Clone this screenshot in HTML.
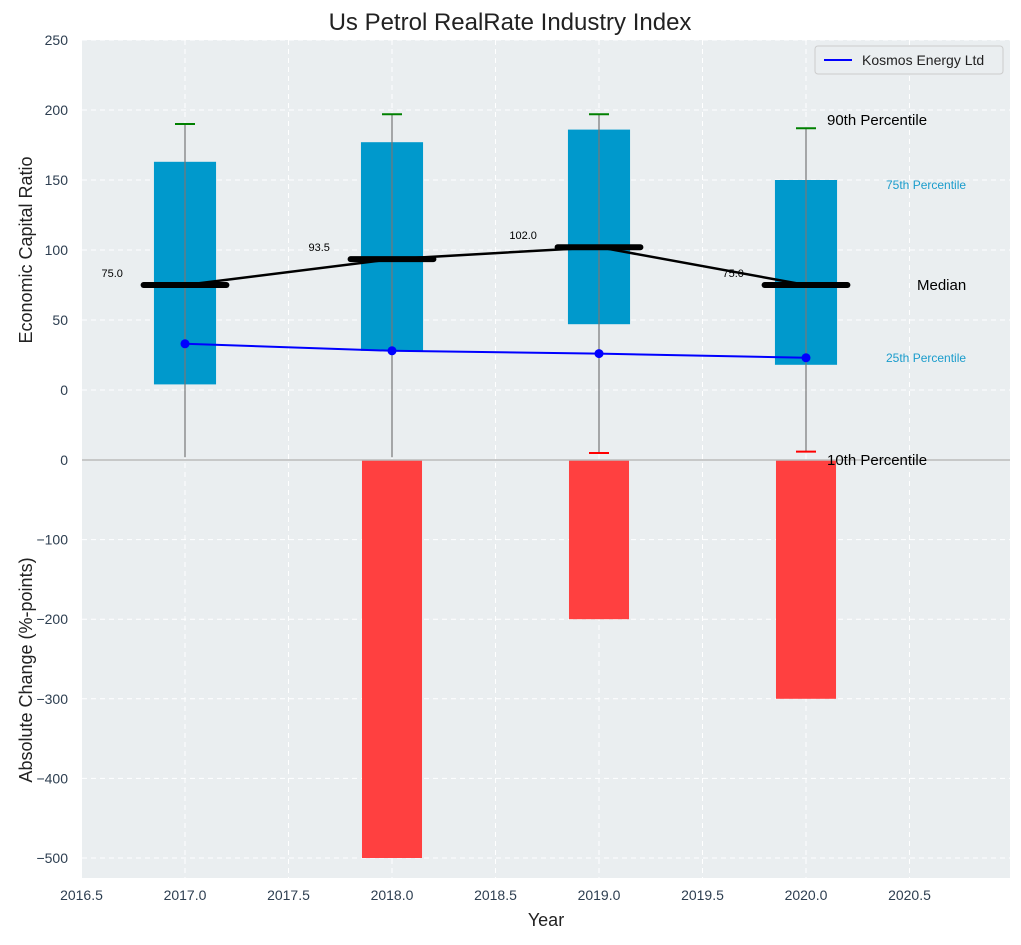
<!DOCTYPE html>
<html><head><meta charset="utf-8"><style>
body{margin:0;background:#fff;font-family:"Liberation Sans",sans-serif;}
svg text{font-family:"Liberation Sans",sans-serif;}
</style></head><body>
<svg id="chart" width="1021" height="940">
<rect x="82" y="40" width="928" height="420" fill="#eaeef0"/>
<rect x="82" y="460" width="928" height="418" fill="#eaeef0"/>
<g id="grid"></g>
<g id="marks"></g>
<line x1="82" y1="460" x2="1010" y2="460" stroke="#bbb" stroke-width="1.5"/>
<g id="axes"></g>
<text x="510" y="30" text-anchor="middle" font-size="24" fill="#222">Us Petrol RealRate Industry Index</text>
<text x="546" y="926" text-anchor="middle" font-size="18" fill="#222">Year</text>
<text transform="translate(32,250) rotate(-90)" text-anchor="middle" font-size="18" fill="#222">Economic Capital Ratio</text>
<text transform="translate(32,670) rotate(-90)" text-anchor="middle" font-size="18" fill="#222">Absolute Change (%-points)</text>
<g>
<rect x="815" y="46" width="188" height="28" rx="3" fill="#eaeef0" stroke="#ccc"/>
<line x1="824" y1="60" x2="852" y2="60" stroke="blue" stroke-width="2"/>
<text x="862" y="65" font-size="14" fill="#222">Kosmos Energy Ltd</text>
</g>
<text x="827" y="125" font-size="15" fill="#000">90th Percentile</text>
<text x="886" y="189" font-size="12" fill="#1a9ccc">75th Percentile</text>
<text x="917" y="290" font-size="15" fill="#000">Median</text>
<text x="886" y="362" font-size="12" fill="#1a9ccc">25th Percentile</text>
<text x="827" y="465" font-size="15" fill="#000">10th Percentile</text>
</svg>
<script>
const years=[2017,2018,2019,2020];
const p90=[190,197,197,187];
const p75=[163,177,186,150];
const medians=[75,93.5,102,75];
const p25=[4,28,47,18];
const p10=[-48,-48,-45,-44];
const kosmos=[33,28,26,23];
const changes=[0,-500,-200,-300];
const xTicks=[2016.5,2017,2017.5,2018,2018.5,2019,2019.5,2020,2020.5];
const topTicks=[250,200,150,100,50,0];
const botTicks=[0,-100,-200,-300,-400,-500];
const NS='http://www.w3.org/2000/svg';
const X=v=>185+(v-2017)*207;
const YT=v=>390-v*1.4;
const YB=v=>460-v*0.796;
function el(p,t,a){const e=document.createElementNS(NS,t);for(const k in a)e.setAttribute(k,a[k]);p.appendChild(e);return e;}
const grid=document.getElementById('grid'),marks=document.getElementById('marks'),axes=document.getElementById('axes');
xTicks.forEach(t=>{
 const g=el(grid,'line',{x1:X(t),x2:X(t),y1:40,y2:878,stroke:'#fff','stroke-dasharray':'5,4'});
 
 
 const tx=el(axes,'text',{x:X(t),y:900,'text-anchor':'middle','font-size':14,fill:'#2d3e50'});tx.textContent=t.toFixed(1);
 
 
});
topTicks.forEach(t=>{
 const g=el(grid,'line',{x1:82,x2:1010,y1:YT(t),y2:YT(t),stroke:'#fff','stroke-dasharray':'5,4'});
 
 
 const tx=el(axes,'text',{x:68,y:YT(t)+5,'text-anchor':'end','font-size':14,fill:'#2d3e50'});tx.textContent=t;
 
 
});
botTicks.forEach(t=>{
 const g=el(grid,'line',{x1:82,x2:1010,y1:YB(t),y2:YB(t),stroke:'#fff','stroke-dasharray':'5,4'});
 
 
 const tx=el(axes,'text',{x:68,y:YB(t)+5,'text-anchor':'end','font-size':14,fill:'#2d3e50'});tx.textContent=(t<0?'\u2212'+(-t):t);
 
 
});
years.forEach((y,i)=>{
 const b=el(marks,'rect',{x:X(y-0.15),y:YT(p75[i]),width:X(y+0.15)-X(y-0.15),height:YT(p25[i])-YT(p75[i]),fill:'#0099cc'});
 
 
 if(changes[i]!==0){
  const c=el(marks,'rect',{x:X(y-0.145),y:460,width:X(y+0.145)-X(y-0.145),height:YB(changes[i])-460,fill:'#ff4040'});
  
  
 }
});
years.forEach((y,i)=>{
 const w=el(marks,'line',{x1:X(y),x2:X(y),y1:YT(p90[i]),y2:YT(p10[i]),stroke:'#777','stroke-width':1.2});
 
 
 const c=el(marks,'line',{x1:X(y)-10,x2:X(y)+10,y1:YT(p90[i]),y2:YT(p90[i]),stroke:'green','stroke-width':2});
 
 
 if(p10[i]>-47){
  const c2=el(marks,'line',{x1:X(y)-10,x2:X(y)+10,y1:YT(p10[i]),y2:YT(p10[i]),stroke:'red','stroke-width':2});
  
  
 }
});
const ml=el(marks,'polyline',{points:years.map((y,i)=>X(y)+','+YT(medians[i])).join(' '),fill:'none',stroke:'#000','stroke-width':2.5});


years.forEach((y,i)=>{
 const m=el(marks,'line',{x1:X(y-0.2),x2:X(y+0.2),y1:YT(medians[i]),y2:YT(medians[i]),stroke:'#000','stroke-width':6,'stroke-linecap':'round'});
 
 
 const t=el(marks,'text',{x:X(y-0.3),y:YT(medians[i])-8,'text-anchor':'end','font-size':11,fill:'#000'});t.textContent=medians[i].toFixed(1);
 
 
});
const kl=el(marks,'polyline',{points:years.map((y,i)=>X(y)+','+YT(kosmos[i])).join(' '),fill:'none',stroke:'blue','stroke-width':2});


years.forEach((y,i)=>{
 const p=el(marks,'circle',{cx:X(y),cy:YT(kosmos[i]),r:4.5,fill:'blue'});
 
 
});
</script>
</body></html>
